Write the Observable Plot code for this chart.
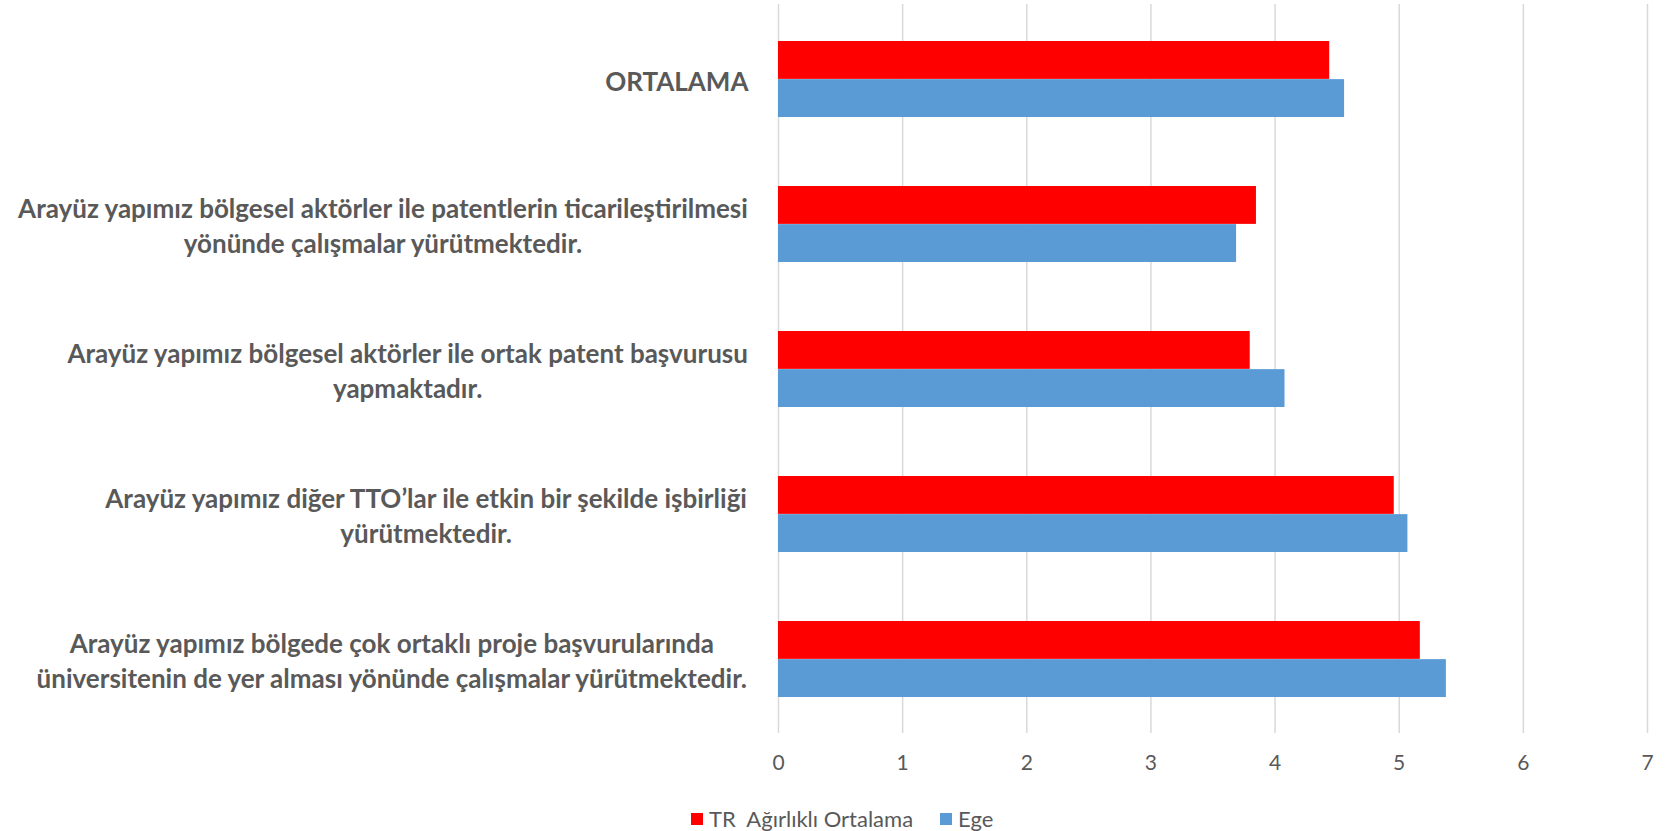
<!DOCTYPE html>
<html><head><meta charset="utf-8">
<script src="https://cdn.jsdelivr.net/npm/d3@7"></script>
<script src="https://cdn.jsdelivr.net/npm/@observablehq/plot@0.6"></script>
<style>
body{margin:0;background:#fff;font-family:Lato,sans-serif;}
#wrap{position:relative;width:1665px;height:831px;}
#legend{position:absolute;left:691px;top:805px;display:flex;align-items:center;font-size:22px;color:#595959;font-family:Lato,sans-serif;white-space:pre;}
#legend .sw{width:12px;height:12px;display:inline-block;margin-right:6px;}
#legend .item{display:flex;align-items:center;margin-right:27px;}
</style></head><body>
<div id="wrap"><div id="chart"></div><div id="legend"></div></div>
<script>
const categories = [
  "ORTALAMA",
  "Arayüz yapımız bölgesel aktörler ile patentlerin ticarileştirilmesi\nyönünde çalışmalar yürütmektedir.",
  "Arayüz yapımız bölgesel aktörler ile ortak patent başvurusu\nyapmaktadır.",
  "Arayüz yapımız diğer TTO’lar ile etkin bir şekilde işbirliği\nyürütmektedir.",
  "Arayüz yapımız bölgede çok ortaklı proje başvurularında\nüniversitenin de yer alması yönünde çalışmalar yürütmektedir."
];
const seriesNames = ["TR  Ağırlıklı Ortalama", "Ege"];
const trValues = [4.44, 3.85, 3.80, 4.96, 5.17];
const egeValues = [4.56, 3.69, 4.08, 5.07, 5.38];
const xTicks = [0, 1, 2, 3, 4, 5, 6, 7];
const colors = ["#FF0000", "#5B9BD5"];

const W = 1665, H = 790, mT = 4, mB = 57, mL = 778, mR = 18;
const pIn = 0.477, pOut = pIn / 2;
const step = (H - mT - mB) / (categories.length - pIn + 2 * pOut);
const bw = step * (1 - pIn);

const trRows = categories.map((c, i) => ({cat: c, value: trValues[i]}));
const egeRows = categories.map((c, i) => ({cat: c, value: egeValues[i]}));

const labelSize = 26;
const ctx = document.createElement("canvas").getContext("2d");
ctx.font = `bold ${labelSize}px Lato`;
const labelMarks = categories.map(c => {
  const w = d3.max(c.split("\n"), l => ctx.measureText(l).width);
  return Plot.text([c], {
    y: d => d, text: d => d, frameAnchor: "left", textAnchor: "middle",
    dx: -(30 + w / 2), fontSize: labelSize, fontWeight: "bold", fontFamily: "Lato",
    lineHeight: 35 / labelSize, fill: "#595959"
  });
});

const chart = Plot.plot({
  width: W, height: H,
  marginTop: mT, marginBottom: mB, marginLeft: mL, marginRight: mR,
  style: {fontFamily: "Lato, sans-serif", color: "#595959", background: "#fff"},
  x: {domain: [0, 7], ticks: xTicks, axis: null},
  y: {type: "band", domain: categories, paddingInner: pIn, paddingOuter: pOut, axis: null},
  marks: [
    Plot.gridX(xTicks, {stroke: "#d9d9d9", strokeWidth: 1.5, strokeOpacity: 1}),
    Plot.barX(trRows, {x: "value", y: "cat", fill: colors[0], insetBottom: bw / 2}),
    Plot.barX(egeRows, {x: "value", y: "cat", fill: colors[1], insetTop: bw / 2}),
    Plot.axisX(xTicks, {tickSize: 0, tickPadding: 22, fontSize: 21, tickFormat: d3.format("d"), label: null, fill: "#595959"}),
    ...labelMarks
  ]
});
document.getElementById("chart").appendChild(chart);

const legend = document.getElementById("legend");
seriesNames.forEach((n, i) => {
  const it = document.createElement("div");
  it.className = "item";
  it.innerHTML = `<span class="sw" style="background:${colors[i]}"></span><span>${n}</span>`;
  legend.appendChild(it);
});
</script>
</body></html>
